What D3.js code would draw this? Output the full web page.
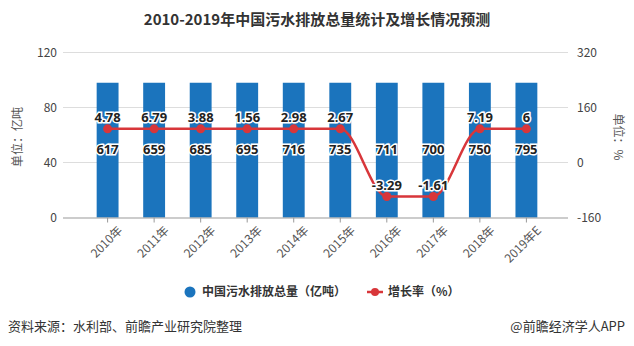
<!DOCTYPE html>
<html>
<head>
<meta charset="utf-8">
<script src="https://cdn.jsdelivr.net/npm/d3@7"></script>
<style>
  body { margin: 0; background: #fff; }
  svg { font-family: "Noto Sans CJK SC", "Noto Sans", sans-serif; }
</style>
</head>
<body>
<div id="chart"></div>
<script>
// data
const years = ["2010年", "2011年", "2012年", "2013年", "2014年", "2015年", "2016年", "2017年", "2018年", "2019年E"];
const volume = [617, 659, 685, 695, 716, 735, 711, 700, 750, 795];          // 亿吨 (labels)
const volumeShown = [98, 98, 98, 98, 98, 98, 98, 98, 98, 98];             // bar height as drawn
const growth = ["4.78", "6.79", "3.88", "1.56", "2.98", "2.67", "-3.29", "-1.61", "7.19", "6"]; // % (labels)
const growthShown = [98, 98, 98, 98, 98, 98, -99, -99, 98, 98];           // line as drawn
const leftTicks = [0, 40, 80, 120];
const rightTicks = [-160, 0, 160, 320];

const width = 634, height = 346;
const plot = {left: 63, right: 568, top: 52.5, bottom: 217.5};

const svg = d3.select("#chart")
    .append("svg")
    .attr("width", width)
    .attr("height", height);

// title
svg.append("text")
    .attr("x", width / 2)
    .attr("y", 25)
    .attr("text-anchor", "middle")
    .style("font-size", "15px")
    .style("font-weight", "bold")
    .attr("fill", "#333")
    .text("2010-2019年中国污水排放总量统计及增长情况预测");

// scales
const x = d3.scaleBand()
    .domain(years)
    .range([72, 562])
    .padding(0.53);

const yL = d3.scaleLinear()
    .domain([0, 120])
    .range([plot.bottom, plot.top]);

const yR = d3.scaleLinear()
    .domain([-160, 320])
    .range([plot.bottom, plot.top]);

// grid lines
svg.append("g")
    .selectAll("line")
    .data(leftTicks.slice(1))
    .join("line")
    .attr("x1", plot.left)
    .attr("x2", plot.right)
    .attr("y1", d => yL(d))
    .attr("y2", d => yL(d))
    .attr("stroke", "#ddd")
    .attr("stroke-width", 1);

// left axis labels
svg.append("g")
    .selectAll("text")
    .data(leftTicks)
    .join("text")
    .attr("x", 57)
    .attr("y", d => yL(d))
    .attr("dy", "0.35em")
    .attr("text-anchor", "end")
    .style("font-size", "12px")
    .attr("fill", "#444")
    .text(d => d);

// right axis labels
svg.append("g")
    .selectAll("text")
    .data(rightTicks)
    .join("text")
    .attr("x", 577)
    .attr("y", d => yR(d))
    .attr("dy", "0.35em")
    .style("font-size", "12px")
    .attr("fill", "#444")
    .text(d => d);

// axis titles
svg.append("text")
    .attr("transform", "translate(22,137) rotate(-90)")
    .attr("text-anchor", "middle")
    .style("font-size", "12px")
    .attr("fill", "#555")
    .text("单位：亿吨");

svg.append("text")
    .attr("transform", "translate(614,137) rotate(90)")
    .attr("text-anchor", "middle")
    .style("font-size", "12px")
    .attr("fill", "#555")
    .text("单位：%");

// bars
svg.append("g")
    .selectAll("rect")
    .data(volumeShown)
    .join("rect")
    .attr("x", (d, i) => x(years[i]))
    .attr("y", d => yL(d))
    .attr("width", x.bandwidth())
    .attr("height", d => yL(0) - yL(d))
    .attr("fill", "#1b74bd");

// x axis
const xAxis = svg.append("g")
    .attr("transform", `translate(0,${plot.bottom})`)
    .call(d3.axisBottom(x).tickSize(5).tickSizeOuter(0));
xAxis.select(".domain").attr("d", `M${plot.left},0.5H${plot.right}`).attr("stroke", "#999");
xAxis.selectAll(".tick line").attr("stroke", "#999");
xAxis.selectAll("text")
    .attr("transform", "translate(4,2) rotate(-45)")
    .style("text-anchor", "end")
    .style("font-size", "12px")
    .style("font-family", "'Noto Sans CJK SC', sans-serif")
    .attr("fill", "#555");

// growth line
const line = d3.line()
    .x((d, i) => x(years[i]) + x.bandwidth() / 2)
    .y(d => yR(d))
    .curve(d3.curveMonotoneX);

svg.append("path")
    .datum(growthShown)
    .attr("d", line)
    .attr("fill", "none")
    .attr("stroke", "#d8363a")
    .attr("stroke-width", 2.5);

svg.append("g")
    .selectAll("circle")
    .data(growthShown)
    .join("circle")
    .attr("cx", (d, i) => x(years[i]) + x.bandwidth() / 2)
    .attr("cy", d => yR(d))
    .attr("r", 4.5)
    .attr("fill", "#d8363a");

// value labels (white halo)
function haloLabels(data, yFn) {
    svg.append("g")
        .selectAll("text")
        .data(data)
        .join("text")
        .attr("x", (d, i) => x(years[i]) + x.bandwidth() / 2)
        .attr("y", (d, i) => yFn(i))
        .attr("dy", "0.35em")
        .attr("text-anchor", "middle")
        .style("font-size", "13px")
        .style("font-weight", "bold")
        .style("font-family", "'Noto Sans', sans-serif")
        .attr("fill", "#222")
        .attr("stroke", "#fff")
        .attr("stroke-width", 3)
        .attr("paint-order", "stroke")
        .text(d => d);
}
haloLabels(growth, i => yR(growthShown[i]) - 11);
haloLabels(volume, i => yR(growthShown[0]) + 21);

// legend
const legend = svg.append("g").style("font-size", "12px").attr("fill", "#333");
legend.append("circle").attr("cx", 190).attr("cy", 292).attr("r", 5.5).attr("fill", "#1b74bd");
legend.append("text").attr("x", 202).attr("y", 292).attr("dy", "0.35em")
    .style("font-weight", "bold").text("中国污水排放总量（亿吨）");
legend.append("line").attr("x1", 367).attr("x2", 383).attr("y1", 292).attr("y2", 292)
    .attr("stroke", "#d8363a").attr("stroke-width", 2.5);
legend.append("circle").attr("cx", 375).attr("cy", 292).attr("r", 4).attr("fill", "#d8363a");
legend.append("text").attr("x", 388).attr("y", 292).attr("dy", "0.35em")
    .style("font-weight", "bold").text("增长率（%）");

// footer
svg.append("text")
    .attr("x", 8)
    .attr("y", 326)
    .attr("dy", "0.35em")
    .style("font-size", "13px")
    .attr("fill", "#333")
    .text("资料来源：水利部、前瞻产业研究院整理");

svg.append("text")
    .attr("x", 625)
    .attr("y", 326)
    .attr("dy", "0.35em")
    .attr("text-anchor", "end")
    .style("font-size", "13px")
    .attr("fill", "#333")
    .text("@前瞻经济学人APP");
</script>
</body>
</html>
